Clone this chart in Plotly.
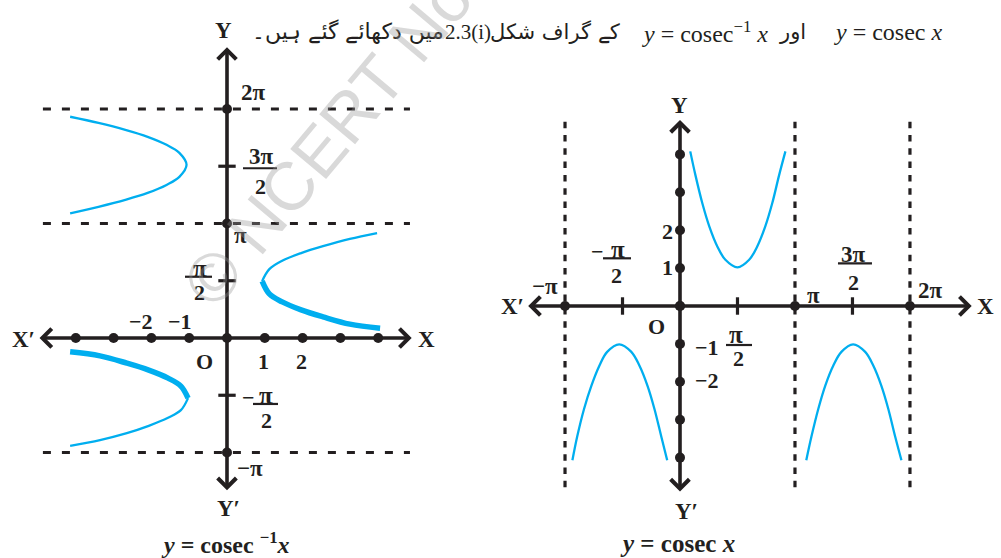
import math
import plotly.graph_objects as go

PI = math.pi

# ---------------- data ----------------
# y = cosec^-1 x : branches traced as (x, y) pairs, y in radians
inv_ul_x = [-4.15, -3.40, -2.69, -2.10, -1.60, -1.26, -1.07, -1.26, -1.60, -2.10, -2.69, -3.40, -4.15]
inv_ul_y = [6.07, 5.90, 5.71, 5.52, 5.30, 5.08, 4.75, 4.42, 4.20, 3.98, 3.79, 3.60, 3.42]

inv_ur_thin_x = [0.93, 1.12, 1.46, 1.96, 2.54, 3.25, 3.97]
inv_ur_thin_y = [1.56, 1.89, 2.12, 2.33, 2.52, 2.72, 2.88]
inv_ur_main_x = [0.93, 1.12, 1.46, 1.96, 2.54, 3.25, 4.05]
inv_ur_main_y = [1.56, 1.21, 0.99, 0.77, 0.58, 0.38, 0.27]

inv_ll_main_x = [-1.03, -1.22, -1.56, -2.07, -2.65, -3.36, -4.15]
inv_ll_main_y = [-1.65, -1.32, -1.10, -0.88, -0.69, -0.49, -0.38]
inv_ll_thin_x = [-1.03, -1.22, -1.56, -2.07, -2.65, -3.36, -4.15]
inv_ll_thin_y = [-1.65, -1.98, -2.19, -2.41, -2.61, -2.80, -2.96]

inv_x_marks = [-4, -3, -2, -1, 0, 1, 2, 3, 4]
inv_y_marks = [2 * PI, PI, -PI]
inv_y_ticks = [3 * PI / 2, PI / 2, -PI / 2]
inv_asymptotes = [2 * PI, PI, -PI]

# y = cosec x : branches traced as (x, y) pairs, x in radians
csc_mid_x = [0.28, 0.42, 0.61, 0.80, 1.02, 1.24, 1.57, 1.89, 2.11, 2.33, 2.52, 2.71, 2.88]
csc_mid_y = [4.08, 3.46, 2.71, 2.10, 1.57, 1.22, 1.02, 1.22, 1.57, 2.10, 2.71, 3.46, 4.08]
csc_left_x = [-2.94, -2.81, -2.62, -2.42, -2.20, -1.99, -1.66, -1.33, -1.11, -0.89, -0.70, -0.51, -0.35]
csc_left_y = [-4.07, -3.45, -2.71, -2.10, -1.57, -1.21, -1.01, -1.21, -1.57, -2.10, -2.71, -3.45, -4.07]
csc_right_x = [3.45, 3.59, 3.78, 3.97, 4.19, 4.41, 4.73, 5.06, 5.28, 5.50, 5.69, 5.88, 6.05]
csc_right_y = [-4.07, -3.45, -2.71, -2.10, -1.57, -1.21, -1.01, -1.21, -1.57, -2.10, -2.71, -3.45, -4.07]

csc_x_marks = [-PI, 0, PI, 2 * PI]
csc_x_ticks = [-PI / 2, PI / 2, 3 * PI / 2]
csc_y_marks = [-4, -3, -2, -1, 0, 1, 2, 3, 4]
csc_asymptotes = [-PI, PI, 2 * PI]

# ---------------- style ----------------
W, H = 1001, 558
INK = "#231f20"
CURVE = "#00aeef"
SERIF = "Liberation Serif"

# panel geometry: origin in pixels and pixels per unit
L_OX, L_OY, L_SX, L_SY = 227, 338, 37.8, 36.45
R_OX, R_OY, R_SX, R_SY = 680, 306, 36.6, 37.9
SPLIT = 470

fig = go.Figure()


def curve(x, y, ax, width):
    fig.add_trace(go.Scatter(x=x, y=y, xaxis=ax[0], yaxis=ax[1], mode="lines",
                             line=dict(color=CURVE, width=width, shape="spline", smoothing=1.0),
                             hoverinfo="skip", showlegend=False))


def dashed(xs, ys, ax, dash):
    fig.add_trace(go.Scatter(x=xs, y=ys, xaxis=ax[0], yaxis=ax[1], mode="lines",
                             line=dict(color=INK, width=3.2, dash=dash),
                             hoverinfo="skip", showlegend=False))


def dots(x, y, ax):
    fig.add_trace(go.Scatter(x=x, y=y, xaxis=ax[0], yaxis=ax[1], mode="markers",
                             marker=dict(color=INK, size=10), cliponaxis=False,
                             hoverinfo="skip", showlegend=False))


def ticks(xs, ys, ax):
    fig.add_trace(go.Scatter(x=xs, y=ys, xaxis=ax[0], yaxis=ax[1], mode="lines",
                             line=dict(color=INK, width=3.2),
                             hoverinfo="skip", showlegend=False))


def arrow_axis(ax, x0, y0, x1, y1):
    fig.add_annotation(xref=ax[0], yref=ax[1], axref=ax[0], ayref=ax[1],
                       x=x1, y=y1, ax=x0, ay=y0, text="", showarrow=True,
                       arrowside="end+start", arrowhead=4, startarrowhead=4,
                       arrowsize=1, startarrowsize=1, arrowwidth=3.6,
                       arrowcolor=INK, standoff=0, startstandoff=0)


def label(ax, x, y, text, dx=0, dy=0, size=22):
    fig.add_annotation(xref=ax[0], yref=ax[1], x=x, y=y, text=text, showarrow=False,
                       xshift=dx, yshift=dy, xanchor="center", yanchor="middle",
                       font=dict(family=SERIF, size=size, color=INK))


def bar(ax, x, y, dx, dy, hw):
    fig.add_shape(type="line", xref=ax[0], yref=ax[1],
                  xsizemode="pixel", xanchor=x, x0=dx - hw, x1=dx + hw,
                  ysizemode="pixel", yanchor=y, y0=dy, y1=dy,
                  line=dict(color=INK, width=2.2))


LA = ("x", "y")
RA = ("x2", "y2")
PIS = 25  # size of the π numerators

# ---- left graph: y = cosec^-1 x ----
asym_x, asym_y = [], []
for v in inv_asymptotes:
    asym_x += [-4.87, 4.84, None]
    asym_y += [v, v, None]
dashed(asym_x, asym_y, LA, "8px,11px")

tk_x, tk_y = [], []
for v in inv_y_ticks:
    tk_x += [-0.23, 0.23, None]
    tk_y += [v, v, None]
ticks(tk_x, tk_y, LA)

curve(inv_ul_x, inv_ul_y, LA, 2.3)
curve(inv_ur_thin_x, inv_ur_thin_y, LA, 2.3)
curve(inv_ll_thin_x, inv_ll_thin_y, LA, 2.3)
curve(inv_ur_main_x, inv_ur_main_y, LA, 5.5)
curve(inv_ll_main_x, inv_ll_main_y, LA, 5.5)

dots(inv_x_marks, [0] * len(inv_x_marks), LA)
dots([0] * len(inv_y_marks), inv_y_marks, LA)

arrow_axis(LA, -5.0, 0, 4.886, 0)
arrow_axis(LA, 0, -4.217, 0, 7.98)

label(LA, 0, 7.98, "<b>Y</b>", -4, 17, 23)
label(LA, 0, 2 * PI, "<b>2π</b>", 26, 16, 23)
label(LA, 0, 3 * PI / 2, "<b>3π</b>", 34, 10, 23)
bar(LA, 0, 3 * PI / 2, 33, -2, 17)
label(LA, 0, 3 * PI / 2, "<b>2</b>", 33, -20)
label(LA, 0, PI, "<b>π</b>", 13, -12.5, 23)
label(LA, 0, PI / 2, "<b>π</b>", -27, 12, PIS)
bar(LA, 0, PI / 2, -28.5, 4, 13.5)
label(LA, 0, PI / 2, "<b>2</b>", -28, -12)
label(LA, -2, 0, "<b>−2</b>", -10.4, 16.5)
label(LA, -1, 0, "<b>−1</b>", -9, 16.5)
label(LA, 0, 0, "<b>O</b>", -23, -23)
label(LA, 1, 0, "<b>1</b>", -1, -23)
label(LA, 2, 0, "<b>2</b>", -1.6, -23)
label(LA, -5.0, 0, "<b>X′</b>", -15, -1, 23)
label(LA, 4.886, 0, "<b>X</b>", 15.3, -1, 23)
label(LA, 0, -PI / 2, "<b>−</b>", 21, -2)
label(LA, 0, -PI / 2, "<b>π</b>", 39, 0, PIS)
bar(LA, 0, -PI / 2, 38.5, -8.7, 12.5)
label(LA, 0, -PI / 2, "<b>2</b>", 39.5, -25)
label(LA, 0, -PI, "<b>−π</b>", 23, -15.5, 23)
label(LA, 0, -4.217, "<b>Y′</b>", 1, -17, 23)
label(LA, 0, -4.217, "<b><i>y</i> = cosec <sup>−1</sup><i>x</i></b>", -2, -51, 24)

# ---- right graph: y = cosec x ----
asym_x, asym_y = [], []
for v in csc_asymptotes:
    asym_x += [v, v, None]
    asym_y += [4.863, -4.802, None]
dashed(asym_x, asym_y, RA, "6.5px,6.8px")

tk_x, tk_y = [], []
for v in csc_x_ticks:
    tk_x += [v, v, None]
    tk_y += [-0.23, 0.23, None]
ticks(tk_x, tk_y, RA)

curve(csc_mid_x, csc_mid_y, RA, 2.3)
curve(csc_left_x, csc_left_y, RA, 2.3)
curve(csc_right_x, csc_right_y, RA, 2.3)

dots(csc_x_marks, [0] * len(csc_x_marks), RA)
dots([0] * len(csc_y_marks), csc_y_marks, RA)

arrow_axis(RA, -4.189, 0, 7.97, 0)
arrow_axis(RA, 0, -4.934, 0, 4.908)

label(RA, 0, 4.908, "<b>Y</b>", -1, 14, 23)
label(RA, 0, 2, "<b>2</b>", -13, -1)
label(RA, 0, 1, "<b>1</b>", -13, 0.5)
label(RA, -PI / 2, 0, "<b>−</b>", -25.5, 55)
label(RA, -PI / 2, 0, "<b>π</b>", -5, 57, PIS)
bar(RA, -PI / 2, 0, -5.5, 47.7, 14)
label(RA, -PI / 2, 0, "<b>2</b>", -6, 31)
label(RA, -PI, 0, "<b>−π</b>", -20, 20, 23)
label(RA, -4.189, 0, "<b>X′</b>", -14, 0, 23)
label(RA, PI, 0, "<b>π</b>", 19, 11, 23)
label(RA, 3 * PI / 2, 0, "<b>3π</b>", 1.5, 52, 23)
bar(RA, 3 * PI / 2, 0, 2.5, 42.7, 17)
label(RA, 3 * PI / 2, 0, "<b>2</b>", 1.5, 24)
label(RA, 2 * PI, 0, "<b>2π</b>", 21, 16, 23)
label(RA, 7.97, 0, "<b>X</b>", 14, 0, 23)
label(RA, 0, 0, "<b>O</b>", -23.5, -20.5)
label(RA, 0, -1, "<b>−1</b>", 26.5, -3.6)
label(RA, PI / 2, 0, "<b>π</b>", -1, -28, PIS)
bar(RA, PI / 2, 0, 1.5, -39, 13)
label(RA, PI / 2, 0, "<b>2</b>", 1, -52)
label(RA, 0, -2, "<b>−2</b>", 26.5, 1.3)
label(RA, 0, -4.934, "<b>Y′</b>", 6, -18, 23)
label(RA, 0, -4.934, "<b><i>y</i> = cosec <i>x</i></b>", -3, -50, 25)

# ---- header line (Urdu with inline math) ----
HY = 1 - 32 / H


def head(xpx, text, anchor, family, size):
    fig.add_annotation(xref="paper", yref="paper", x=xpx / W, y=HY, text=text,
                       showarrow=False, xanchor=anchor, yanchor="middle",
                       font=dict(family=family, size=size, color=INK))


head(945, "<i>y</i> = cosec <i>x</i>", "right", SERIF, 24)
head(808, "اور", "right", "DejaVu Sans", 21)
head(770, "<i>y</i> = cosec<sup>−1</sup> <i>x</i>", "right", SERIF, 24)
head(622, "کے گراف شکل", "right", "DejaVu Sans", 21)
head(493, "2.3(i)", "right", SERIF, 21)
head(446, "میں دکھائے گئے ہیں۔", "right", "DejaVu Sans", 22)

# watermark
fig.add_annotation(xref="paper", yref="paper", x=507 / W, y=1 + 74 / H,
                   text="© NCERT Not to be republished", showarrow=False,
                   textangle=-50, xanchor="center", yanchor="middle",
                   font=dict(family="Liberation Sans", size=68, color="rgba(150,150,150,0.36)"))

fig.update_layout(
    width=W, height=H, margin=dict(l=0, r=0, t=0, b=0),
    paper_bgcolor="white", plot_bgcolor="rgba(0,0,0,0)", showlegend=False,
    xaxis=dict(domain=[0, SPLIT / W], range=[-L_OX / L_SX, (SPLIT - L_OX) / L_SX], visible=False),
    yaxis=dict(domain=[0, 1], range=[(L_OY - H) / L_SY, L_OY / L_SY], visible=False),
    xaxis2=dict(domain=[SPLIT / W, 1], range=[(SPLIT - R_OX) / R_SX, (W - R_OX) / R_SX], visible=False),
    yaxis2=dict(domain=[0, 1], range=[(R_OY - H) / R_SY, R_OY / R_SY], visible=False),
)

fig.write_html("out.html")
